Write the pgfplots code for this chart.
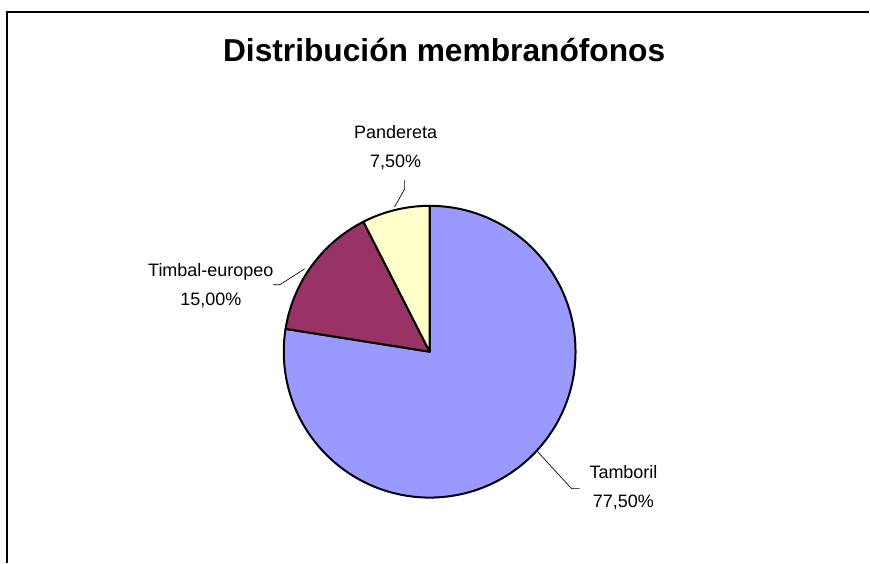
\documentclass[border=0pt]{standalone}
\usepackage{pgfplots}
\usepackage{pgfplotstable}
\pgfplotsset{compat=1.18}
\usepackage{fontspec}
\setmainfont{Liberation Sans}

\definecolor{tamboril}{HTML}{9999FF}
\definecolor{timbal}{HTML}{993366}
\definecolor{pandereta}{HTML}{FFFFCC}

% shares in percent, clockwise from 12 o'clock
\pgfplotstableread{
name share
Tamboril 77.5
Timbal 15.0
Pandereta 7.5
}\piedata

\pgfplotstablegetelem{0}{share}\of\piedata \let\sA\pgfplotsretval
\pgfplotstablegetelem{1}{share}\of\piedata \let\sB\pgfplotsretval
\pgfplotstablegetelem{2}{share}\of\piedata \let\sC\pgfplotsretval
\pgfmathsetmacro\aA{90-3.6*\sA}
\pgfmathsetmacro\aB{\aA-3.6*\sB}
\pgfmathsetmacro\aC{\aB-3.6*\sC}
\def\R{109.5pt}

\begin{document}
\begin{tikzpicture}
\begin{axis}[
    width=652.5pt, height=422.25pt,
    scale only axis,
    xmin=0, xmax=870, ymin=0, ymax=563,
    hide axis,
    clip=false,
]
\path (axis cs:0,0) rectangle (axis cs:870,563);
% chart area frame (cropped at right and bottom)
\draw[line width=1.1pt] (axis cs:7,0) -- (axis cs:7,551) -- (axis cs:870,551);

\node[font=\fontsize{23.8}{28}\selectfont\bfseries] at (axis cs:444.5,513) {Distribución membranófonos};

\filldraw[fill=tamboril, line width=1.5pt, line join=round]
  (axis cs:430,211) -- ++(90:\R) arc[start angle=90, end angle=\aA, radius=\R] -- cycle;
\filldraw[fill=timbal, line width=1.5pt, line join=round]
  (axis cs:430,211) -- ++(\aA:\R) arc[start angle=\aA, end angle=\aB, radius=\R] -- cycle;
\filldraw[fill=pandereta, line width=1.5pt, line join=round]
  (axis cs:430,211) -- ++(\aB:\R) arc[start angle=\aB, end angle=\aC, radius=\R] -- cycle;

% leader lines
\draw[line width=0.5pt] (axis cs:405,383) -- (axis cs:405,374) -- (axis cs:395,356);
\draw[line width=0.5pt] (axis cs:273,278) -- (axis cs:280,278) -- (axis cs:305,294);
\draw[line width=0.5pt] (axis cs:580,74) -- (axis cs:572,74) -- (axis cs:538,111);

% data labels
\node[align=center, font=\fontsize{13.5}{21.75}\selectfont] at (axis cs:396,415.5) {Pandereta\\7,50\%};
\node[align=center, font=\fontsize{13.5}{21.75}\selectfont] at (axis cs:211,277) {Timbal-europeo\\15,00\%};
\node[align=center, font=\fontsize{13.5}{21.75}\selectfont] at (axis cs:624,74.5) {Tamboril\\77,50\%};
\end{axis}
\end{tikzpicture}
\end{document}
